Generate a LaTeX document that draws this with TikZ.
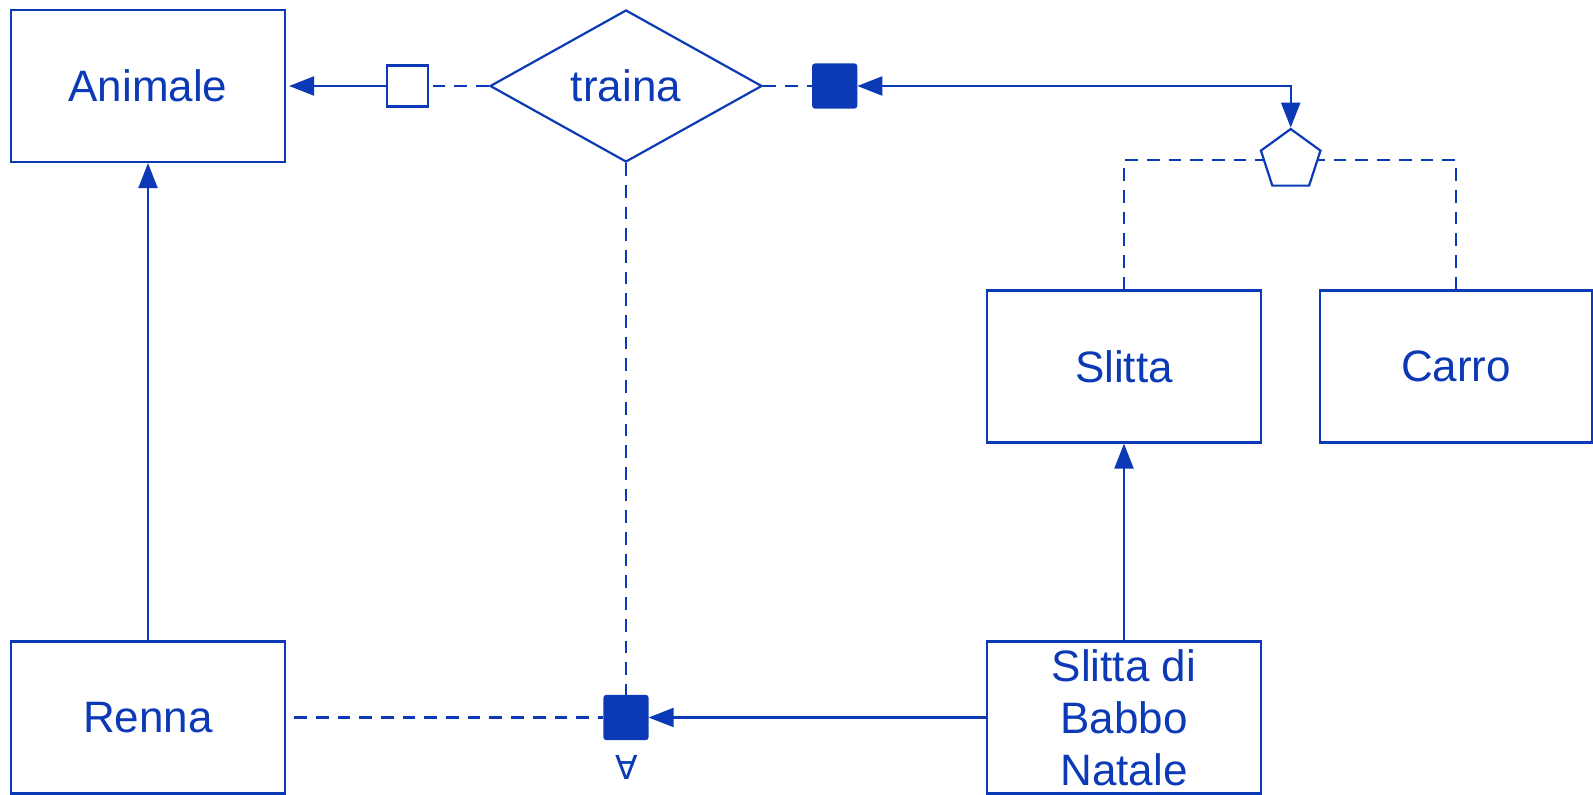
\documentclass[tikz,border=0pt]{standalone}
\usepackage{fontspec}
\setmainfont{Liberation Sans}
\newfontfamily\symfont{DejaVu Sans}
\usetikzlibrary{shapes.geometric,arrows.meta}
\definecolor{ink}{RGB}{12,58,182}
\begin{document}
\begin{tikzpicture}[x=1pt,y=-1pt,
  entity/.style={draw=ink, line width=2.2pt, minimum width=274pt, minimum height=152pt,
    inner sep=0pt, text=ink, font=\fontsize{44}{52}\selectfont, align=center},
  rel/.style={diamond, draw=ink, line width=2.2pt, minimum width=272pt, minimum height=152pt,
    aspect=1.79, inner sep=0pt, text=ink, font=\fontsize{44}{52}\selectfont},
  wsq/.style={draw=ink, fill=white, line width=2.2pt, minimum size=41pt, inner sep=0pt},
  fsq/.style={draw=ink, fill=ink, line width=2.2pt, minimum size=43pt, inner sep=0pt, rounded corners=2pt},
  pentnode/.style={regular polygon, regular polygon sides=5, draw=ink, fill=white, line width=2.2pt,
    minimum size=62.6pt, inner sep=0pt},
  conn/.style={draw=ink, line width=2.2pt},
  dsh/.style={conn, dash pattern=on 12.7pt off 9pt},
  tip/.style={-{Triangle[length=25pt,width=19pt]}},
  tips/.style={{Triangle[length=25pt,width=19pt]}-{Triangle[length=25pt,width=19pt]}}
]
\useasboundingbox (0,0) rectangle (1593,795);

\node[entity] (animale) at (148,86) {Animale};
\node[entity] (renna) at (148,717.5) {Renna};
\node[entity] (slitta) at (1124,366.5) {Slitta};
\node[entity, minimum width=272pt] (carro) at (1456,366.5) {Carro};
\node[entity] (sdbn) at (1124,717.5) {Slitta di\\Babbo\\Natale};
\node[rel] (traina) at (626,86) {traina};
\node[wsq] (wsq) at (407.5,86) {};
\node[fsq] (fsqT) at (834.7,86) {};
\node[fsq] (fsqB) at (626,717.5) {};
\node[pentnode] (pent) at (1290.7,160.3) {};
\node[text=ink, inner sep=0pt, font=\symfont\fontsize{33}{33}\selectfont] (forall) at (626.5,767) {∀};

\draw[conn,tip] (wsq) -- ([xshift=3pt]animale.east);
\draw[dsh] (traina) -- (wsq);
\draw[dsh] (traina) -- (fsqT);
\draw[conn,tips] (fsqT) -| (pent);
\draw[dsh] (slitta.north) |- (pent);
\draw[dsh] (carro.north) |- (pent);
\draw[dsh] (traina) -- (fsqB);
\draw[dsh] ([xshift=8pt]renna.east) -- (fsqB);
\draw[conn,tip] (sdbn) -- (fsqB);
\draw[conn,tip] (renna) -- (animale);
\draw[conn,tip] (sdbn) -- (slitta);
\end{tikzpicture}
\end{document}
